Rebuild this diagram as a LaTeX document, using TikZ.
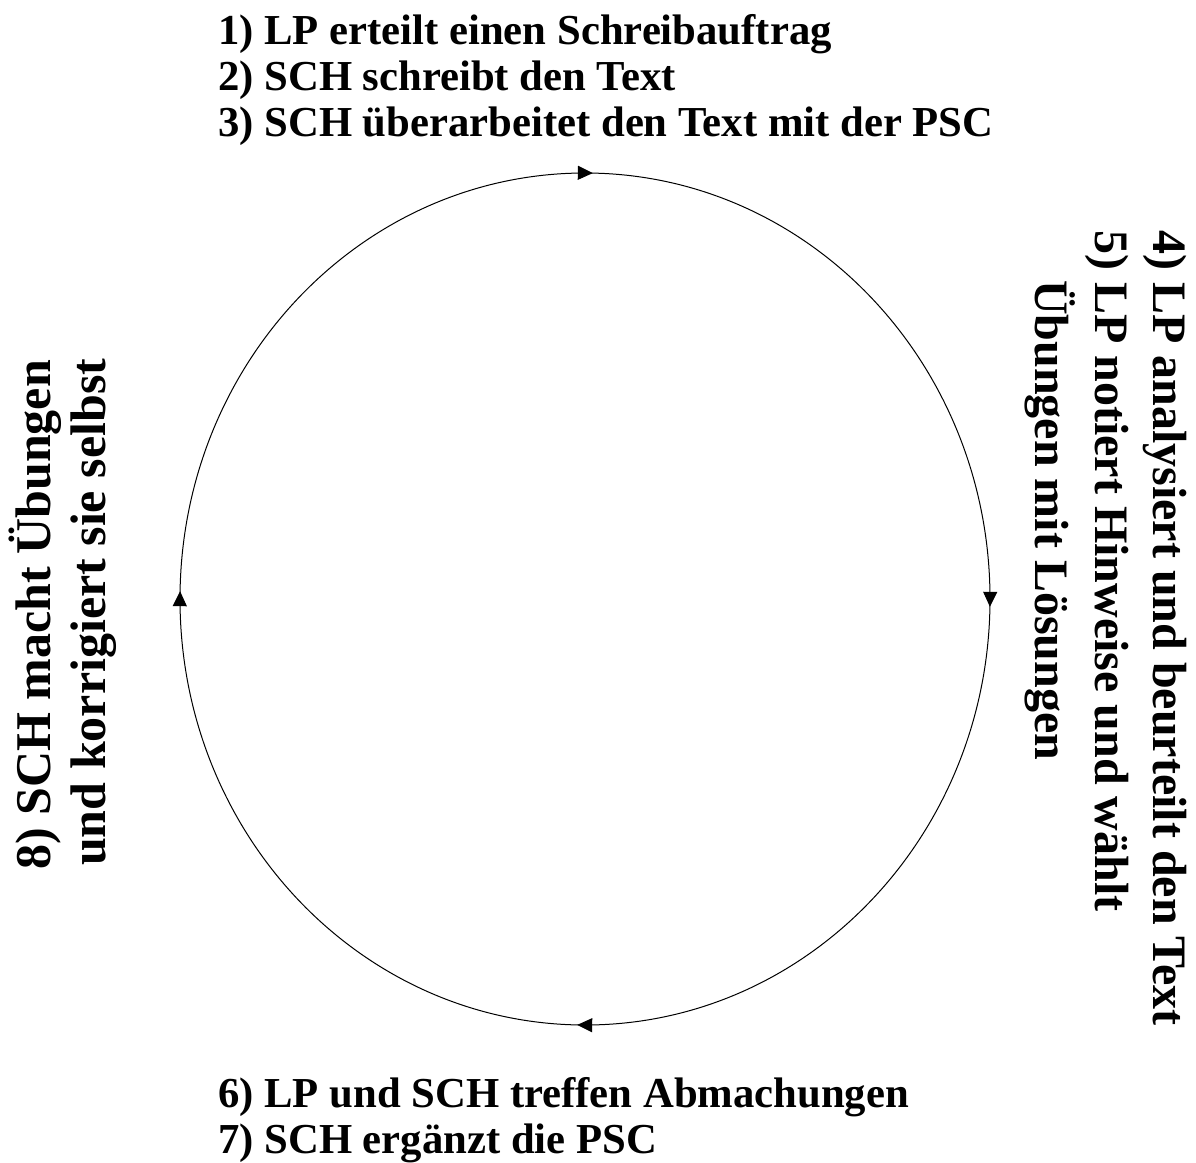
\documentclass[tikz,border=0pt]{standalone}
\usepackage{fontspec}
\setmainfont{Liberation Serif}
\usetikzlibrary{arrows.meta,decorations.markings}
\begin{document}
\begin{tikzpicture}[x=1pt,y=-1pt,
  lbl/.style={inner sep=0pt,anchor=base west,font=\fontsize{42.7}{46}\selectfont\bfseries},
  rightlbl/.style={inner sep=0pt,anchor=base west,rotate=-90,font=\fontsize{48}{54}\selectfont\bfseries},
  leftlbl/.style={inner sep=0pt,anchor=base west,rotate=90,font=\fontsize{50}{56}\selectfont\bfseries},
  cyc/.style={line width=1pt,postaction={decorate},decoration={markings,
     mark=at position 0.003 with {\arrow{Triangle[length=15pt,width=14pt]}},
     mark=at position 0.253 with {\arrow{Triangle[length=15pt,width=14pt]}},
     mark=at position 0.503 with {\arrow{Triangle[length=15pt,width=14pt]}},
     mark=at position 0.753 with {\arrow{Triangle[length=15pt,width=14pt]}}}}]
\useasboundingbox (0,0) rectangle (1196,1162);
\coordinate (c) at (585,599);
\draw[cyc] (c) ellipse [x radius=405, y radius=426];
\node[lbl] (t1) at (218,44) {1) LP erteilt einen Schreibauftrag};
\node[lbl] (t2) at (218,90) {2) SCH schreibt den Text};
\node[lbl] (t3) at (218,136) {3) SCH überarbeitet den Text mit der PSC};
\node[lbl] (b1) at (218,1107) {6) LP und SCH treffen Abmachungen};
\node[lbl] (b2) at (218,1153) {7) SCH ergänzt die PSC};
\node[rightlbl] (r1) at (1153,230) {4) LP analysiert und beurteilt den Text};
\node[rightlbl] (r2) at (1095,230) {5) LP notiert Hinweise und wählt};
\node[rightlbl] (r3) at (1035,280) {Übungen mit Lösungen};
\node[leftlbl] (l1) at (50,870) {8) SCH macht Übungen};
\node[leftlbl] (l2) at (105,866) {und korrigiert sie selbst};
\end{tikzpicture}
\end{document}
